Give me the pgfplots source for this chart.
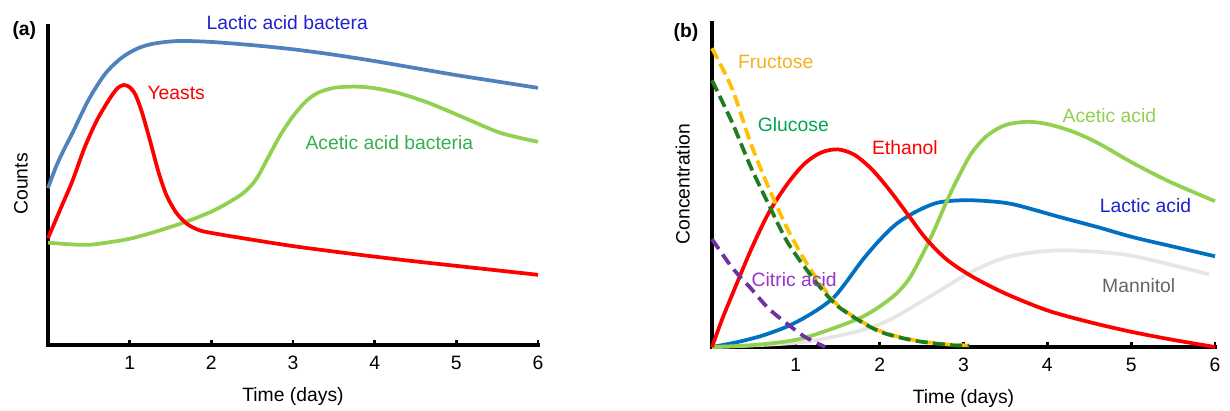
\documentclass[border=0pt]{standalone}
\usepackage{fontspec}
\setmainfont{Liberation Sans}
\usepackage{pgfplots}
\pgfplotsset{compat=1.18}
\definecolor{lab}{HTML}{4F81BD}
\definecolor{labtext}{HTML}{2222CC}
\definecolor{aab}{HTML}{92D050}
\definecolor{aabtext}{HTML}{33B050}
\definecolor{lactic}{HTML}{0070C0}
\definecolor{lactictext}{HTML}{2020C8}
\definecolor{fructose}{HTML}{FFC000}
\definecolor{fructosetext}{HTML}{F5B020}
\definecolor{glucose}{HTML}{1E7B1E}
\definecolor{glucosetext}{HTML}{00A651}
\definecolor{citric}{HTML}{7030A0}
\definecolor{citrictext}{HTML}{9933CC}
\definecolor{mannitol}{HTML}{E6E6E6}
\definecolor{mannitoltext}{HTML}{666666}
\newcommand{\fs}{\fontsize{14.5}{17}\selectfont}
\begin{document}
\fs
\begin{tikzpicture}
\useasboundingbox (0,0) rectangle (922.5pt,307.5pt);
\pgfplotsset{myax/.style={
  scale only axis, anchor=south west,
  xmin=0,xmax=6,ymin=0,ymax=1,
  axis lines=left,
  axis line style={line width=2.6pt,-,line cap=rect,black},
  xtick={1,2,3,4,5,6}, ytick=\empty,
  tick align=inside, major tick length=3.8pt,
  tick style={line width=2pt,black},
  clip=false,
  /pgf/number format/assume math mode=true,
  xticklabel style={anchor=center,yshift=-13.5pt,font=\fs},
  xlabel={Time (days)},
  xlabel style={at={(axis description cs:0.5,0)},anchor=center,yshift=-39pt,font=\fs},
  ylabel style={anchor=center,font=\fs},
  every axis plot/.append style={line width=2.8pt, smooth, no markers},
}}
% ---------- panel (a)
\begin{axis}[myax, at={(36pt,48.75pt)}, width=367.5pt, height=239.25pt,
  ylabel={Counts}, ylabel style={at={(axis description cs:-0.055,0.505)}}]
\addplot[lab] coordinates {(0,0.492) (0.1,0.56) (0.2,0.615) (0.3,0.665) (0.5,0.77) (0.7,0.85) (0.9,0.9) (1.1,0.93) (1.3,0.945) (1.6,0.953) (2.0,0.95) (2.5,0.94) (3.0,0.927) (3.5,0.91) (4.0,0.89) (4.5,0.868) (5.0,0.846) (5.5,0.826) (6,0.806)};
\addplot[aab] coordinates {(0,0.321) (0.25,0.316) (0.5,0.314) (0.75,0.322) (1.0,0.333) (1.25,0.35) (1.5,0.37) (1.75,0.392) (2.0,0.418) (2.2,0.445) (2.4,0.478) (2.55,0.52) (2.7,0.59) (2.85,0.66) (3.0,0.717) (3.15,0.762) (3.3,0.79) (3.5,0.806) (3.75,0.81) (4.0,0.805) (4.3,0.789) (4.66,0.759) (5.1,0.712) (5.54,0.665) (6,0.637)};
\addplot[red] coordinates {(0,0.335) (0.15,0.425) (0.3,0.515) (0.45,0.62) (0.6,0.705) (0.75,0.77) (0.85,0.805) (0.93,0.815) (1.0,0.808) (1.07,0.785) (1.15,0.73) (1.25,0.64) (1.35,0.545) (1.45,0.47) (1.57,0.415) (1.7,0.38) (1.85,0.36) (2.03,0.35) (2.5,0.33) (3.0,0.31) (3.5,0.293) (4.0,0.277) (4.5,0.262) (5.0,0.248) (5.5,0.234) (6,0.22)};
\node[labtext] at (axis cs:2.93,1.01) {Lactic acid bactera};
\node[red] at (axis cs:1.57,0.79) {Yeasts};
\node[aabtext] at (axis cs:4.18,0.633) {Acetic acid bacteria};
\node[font=\bfseries\fs] at (axis cs:-0.29,0.987) {(a)};
\end{axis}
% ---------- panel (b)
\begin{axis}[myax, at={(534pt,47.25pt)}, width=377.25pt, height=243pt,
  ylabel={Concentration}, ylabel style={at={(axis description cs:-0.058,0.503)}}]
\addplot[mannitol] coordinates {(0,0) (1.11,0.016) (1.98,0.068) (2.63,0.161) (3.07,0.229) (3.5,0.276) (3.93,0.295) (4.37,0.297) (5.02,0.281) (5.93,0.224)};
\addplot[lactic] coordinates {(0,0) (0.3,0.015) (0.6,0.035) (0.89,0.0625) (1.1,0.09) (1.3,0.122) (1.46,0.155) (1.6,0.2) (1.8,0.27) (2.0,0.33) (2.2,0.38) (2.45,0.42) (2.7,0.446) (3.0,0.453) (3.3,0.45) (3.6,0.44) (4.15,0.401) (4.6,0.37) (5.02,0.339) (5.5,0.31) (6,0.28)};
\addplot[aab] coordinates {(0,0) (0.5,0.006) (0.98,0.021) (1.33,0.047) (1.76,0.089) (2.0,0.125) (2.2,0.165) (2.35,0.21) (2.5,0.28) (2.65,0.36) (2.8,0.45) (2.95,0.53) (3.1,0.6) (3.28,0.652) (3.5,0.685) (3.76,0.695) (4.0,0.688) (4.3,0.665) (4.6,0.63) (5.02,0.568) (5.46,0.51) (6,0.45)};
\addplot[red] coordinates {(0,0) (0.12,0.085) (0.24,0.161) (0.46,0.297) (0.67,0.411) (0.89,0.5) (1.1,0.565) (1.3,0.6) (1.5,0.61) (1.7,0.593) (1.9,0.55) (2.1,0.49) (2.33,0.411) (2.55,0.335) (2.8,0.27) (3.1,0.218) (3.5,0.165) (4.0,0.113) (4.5,0.077) (5.0,0.047) (5.5,0.022) (6,0)};
\addplot[citric, dash pattern=on 9pt off 5pt] coordinates {(0,0.333) (0.24,0.245) (0.46,0.182) (0.67,0.12) (0.89,0.073) (1.11,0.031) (1.35,0)};
\addplot[fructose, dash pattern=on 9pt off 4pt] coordinates {(0,0.922) (0.24,0.797) (0.46,0.63) (0.67,0.495) (0.89,0.37) (1.11,0.266) (1.33,0.182) (1.54,0.12) (1.98,0.052) (2.41,0.021) (2.85,0.007) (3.07,0.005)};
\addplot[glucose, dash pattern=on 9pt off 4pt] coordinates {(0,0.823) (0.24,0.693) (0.46,0.557) (0.67,0.443) (0.89,0.328) (1.11,0.245) (1.33,0.172) (1.54,0.118) (1.98,0.05) (2.41,0.02) (2.85,0.006) (3.07,0.004)};
\node[fructosetext] at (axis cs:0.76,0.88) {Fructose};
\node[glucosetext] at (axis cs:0.97,0.6875) {Glucose};
\node[red] at (axis cs:2.3,0.615) {Ethanol};
\node[aab] at (axis cs:4.74,0.713) {Acetic acid};
\node[lactictext] at (axis cs:5.17,0.435) {Lactic acid};
\node[citrictext] at (axis cs:0.98,0.208) {Citric acid};
\node[mannitoltext] at (axis cs:5.09,0.19) {Mannitol};
\node[font=\bfseries\fs] at (axis cs:-0.31,0.972) {(b)};
\end{axis}
\end{tikzpicture}
\end{document}
